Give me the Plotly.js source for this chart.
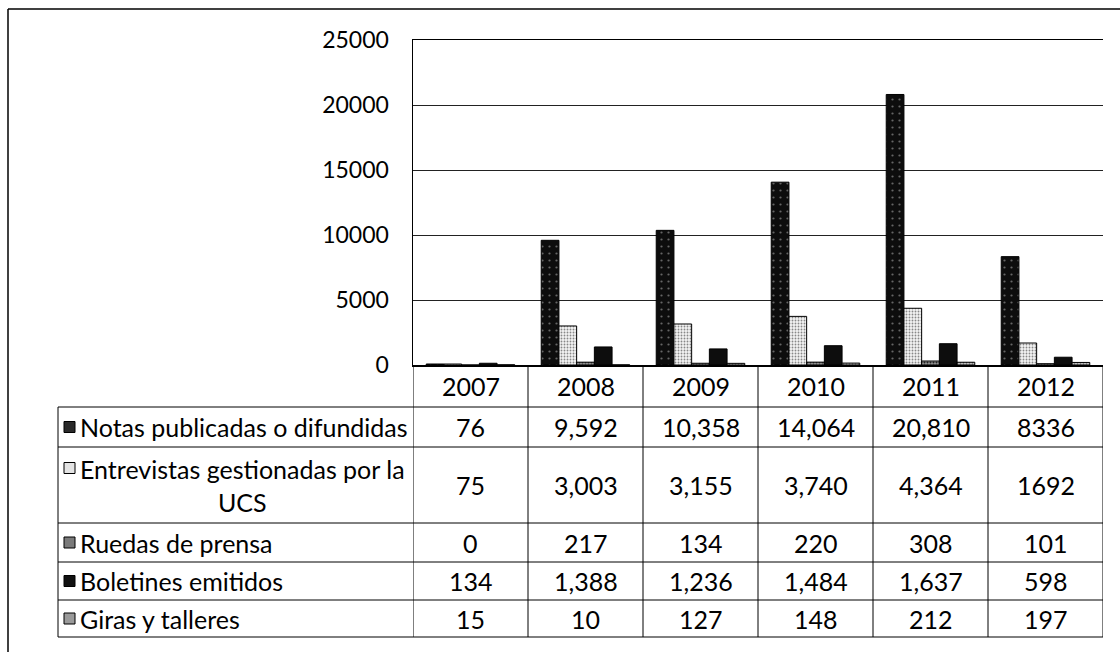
<!DOCTYPE html>
<html>
<head>
<meta charset="utf-8">
<script src="https://cdn.plot.ly/plotly-3.0.1.min.js"></script>
<style>
  html, body { margin: 0; padding: 0; background: #fff; }
  #chart { width: 1120px; height: 652px; }
</style>
</head>
<body>
<div id="chart"></div>
<script>
// ---- data ----
const years = ['2007', '2008', '2009', '2010', '2011', '2012'];
const seriesNames = [
  'Notas publicadas o difundidas',
  'Entrevistas gestionadas por la UCS',
  'Ruedas de prensa',
  'Boletines emitidos',
  'Giras y talleres'
];
const notas       = [76, 9592, 10358, 14064, 20810, 8336];
const entrevistas = [75, 3003, 3155, 3740, 4364, 1692];
const ruedas      = [0, 217, 134, 220, 308, 101];
const boletines   = [134, 1388, 1236, 1484, 1637, 598];
const giras       = [15, 10, 127, 148, 212, 197];
const yTickValues = [0, 5000, 10000, 15000, 20000, 25000];
const useThousandsSep = [true, true, true, true, true, false];

// ---- styling / layout helpers ----
const W = 1120, H = 652;
const FONT = 'Lato, "Noto Sans", sans-serif';
const FS = 25;
const px = x => x / W;
const py = y => 1 - y / H;

const seriesValues = [notas, entrevistas, ruedas, boletines, giras];
const styles = [
  { color: '#111', pattern: { shape: '.', bgcolor: '#0d0d0d', fgcolor: '#666', size: 7, solidity: 0.08 } },
  { color: '#eee', pattern: { shape: '.', bgcolor: '#f4f4f4', fgcolor: '#888', size: 3, solidity: 0.3 } },
  { color: '#888', pattern: { shape: '.', bgcolor: '#999', fgcolor: '#222', size: 3, solidity: 0.4 } },
  { color: '#0d0d0d', pattern: { shape: '' } },
  { color: '#aaa', pattern: { shape: '.', bgcolor: '#ccc', fgcolor: '#333', size: 3, solidity: 0.4 } }
];
const keyFill = ['#2a2a2a', '#e4e4e4', '#7a7a7a', '#111', '#9a9a9a'];

const traces = seriesValues.map((vals, i) => ({
  type: 'bar',
  name: seriesNames[i],
  x: years,
  y: vals,
  marker: {
    color: styles[i].color,
    pattern: styles[i].pattern,
    line: { color: '#000', width: 1 }
  },
  hoverinfo: 'x+y+name'
}));

// table geometry (pixels)
const tableLeft = 58, plotLeft = 413, plotRight = 1103;
const rowEdges = [365, 407, 447, 523, 562, 600, 637];

const shapes = [];
const annotations = [];

// outer chart frame (left + top)
shapes.push({ type: 'line', xref: 'paper', yref: 'paper', x0: px(8), x1: px(8), y0: py(9), y1: 0, line: { color: '#000', width: 1.5 } });
shapes.push({ type: 'line', xref: 'paper', yref: 'paper', x0: px(8), x1: 1, y0: py(9), y1: py(9), line: { color: '#000', width: 1.5 } });

// horizontal table lines
rowEdges.forEach((ry, k) => {
  if (k === 0) return; // drawn by the x axis line
  shapes.push({ type: 'line', xref: 'paper', yref: 'paper', x0: px(tableLeft), x1: px(plotRight), y0: py(ry), y1: py(ry), line: { color: '#000', width: 1 } });
});
// left table edge
shapes.push({ type: 'line', xref: 'paper', yref: 'paper', x0: px(tableLeft), x1: px(tableLeft), y0: py(rowEdges[1]), y1: py(rowEdges[6]), line: { color: '#000', width: 1 } });
// column separators through the category axis
for (let j = 0; j <= years.length; j++) {
  shapes.push({ type: 'line', xref: 'x', yref: 'paper', x0: j - 0.5, x1: j - 0.5, y0: py(rowEdges[0]), y1: py(rowEdges[6]), line: { color: '#000', width: 1 } });
}

// header: years (placed at category index on the x axis)
years.forEach((yr, j) => {
  annotations.push({ xref: 'x', yref: 'paper', x: j, y: py((rowEdges[0] + rowEdges[1]) / 2), text: yr, showarrow: false, xanchor: 'center', yanchor: 'middle', font: { family: FONT, size: FS, color: '#000' } });
});

// rows
const fmt = (v, j) => (useThousandsSep[j] ? v.toLocaleString('en-US') : String(v));
seriesValues.forEach((vals, i) => {
  const top = rowEdges[i + 1], bot = rowEdges[i + 2];
  const cy = (top + bot) / 2;
  const twoLine = i === 1;
  const label = twoLine ? 'Entrevistas gestionadas por la<br>UCS' : seriesNames[i];
  annotations.push({ xref: 'paper', yref: 'paper', x: px(78), y: py(cy), text: label, showarrow: false, xanchor: 'left', yanchor: 'middle', align: 'center', font: { family: FONT, size: FS, color: '#000' } });
  const keyCy = twoLine ? top + 21 : cy;
  shapes.push({ type: 'rect', xref: 'paper', yref: 'paper', x0: px(64), x1: px(75), y0: py(keyCy - 5.5), y1: py(keyCy + 5.5), fillcolor: keyFill[i], line: { color: '#000', width: 1 } });
  vals.forEach((v, j) => {
    annotations.push({ xref: 'x', yref: 'paper', x: j, y: py(cy), text: fmt(v, j), showarrow: false, xanchor: 'center', yanchor: 'middle', font: { family: FONT, size: FS, color: '#000' } });
  });
});

const layout = {
  width: W, height: H,
  margin: { l: 0, r: 0, t: 0, b: 0, pad: 0 },
  paper_bgcolor: '#fff', plot_bgcolor: '#fff',
  showlegend: false,
  barmode: 'group',
  bargap: 0.23,
  bargroupgap: 0,
  font: { family: FONT, size: FS, color: '#000' },
  xaxis: {
    type: 'category',
    categoryarray: years,
    range: [-0.5, years.length - 0.5],
    domain: [px(plotLeft), px(plotRight)],
    showticklabels: false,
    ticks: '',
    showgrid: false,
    zeroline: false,
    showline: true,
    mirror: true,
    linecolor: '#000',
    linewidth: 1.5,
    fixedrange: true
  },
  yaxis: {
    domain: [py(rowEdges[0]), py(40)],
    range: [0, 25000],
    tickvals: yTickValues,
    tickformat: 'd',
    ticks: '',
    ticklabelstandoff: 18,
    showgrid: true,
    gridcolor: '#222',
    gridwidth: 1,
    zeroline: false,
    showline: true,
    linecolor: '#000',
    linewidth: 1.5,
    tickfont: { family: FONT, size: 23, color: '#000' },
    fixedrange: true
  },
  shapes: shapes,
  annotations: annotations
};

Plotly.newPlot('chart', traces, layout, { displayModeBar: false, staticPlot: true });
</script>
</body>
</html>
